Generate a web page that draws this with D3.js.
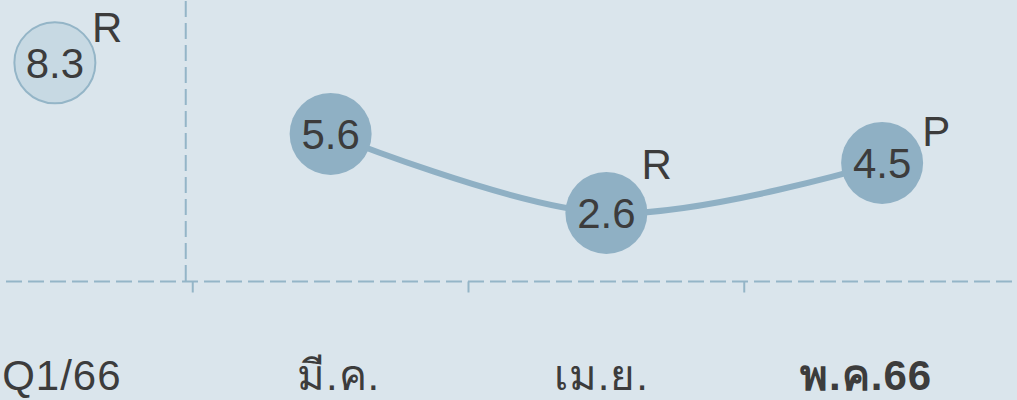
<!DOCTYPE html>
<html>
<head>
<meta charset="utf-8">
<script src="https://cdn.jsdelivr.net/npm/d3@7"></script>
<style>
  body { margin: 0; background: #dae5ec; }
  svg { display: block; font-family: "Liberation Sans", Arial, sans-serif; }
</style>
</head>
<body>
<div id="chart"></div>
<script>
// chart size
const WIDTH = 1017;
const HEIGHT = 400;

// data
const categories = ["Q1/66", "มี.ค.", "เม.ย.", "พ.ค.66"];
const values = [8.3, 5.6, 2.6, 4.5];
const flags = ["R", "", "R", "P"];
const periodType = ["quarter", "month", "month", "month"];

const BG = "#dae5ec";
const BLUE = "#8fb0c4";
const LIGHT = "#c7d9e3";
const GRID = "#94b5c7";
const TEXT = "#3c3c3c";

// where the little R / P sits relative to the circle centre
const FLAG_OFFSET = [[37, -21], [0, 0], [35, -34], [40, -17]];
// labels are not quite centred under the bubbles
const LABEL_SHIFT = [7, 8, -5, -16];

let svg = d3.select("#chart").append("svg")
  .attr("width", WIDTH)
  .attr("height", HEIGHT);

svg.append("rect").attr("width", WIDTH).attr("height", HEIGHT).attr("fill", BG);

let xScale = d3.scaleBand()
  .domain(categories)
  .range([-83, 1020])
  .padding(0);
let cx = (d) => xScale(d) + xScale.bandwidth() / 2;

let yScale = d3.scaleLinear()
  .domain([0, 10])
  .range([281.5, 18]);

let points = categories.map((c, i) => ({ cat: c, value: values[i], flag: flags[i], type: periodType[i], i: i }));

// zero line
svg.append("line")
  .attr("x1", 6).attr("x2", WIDTH)
  .attr("y1", yScale(0)).attr("y2", yScale(0))
  .attr("stroke", GRID).attr("stroke-width", 2)
  .attr("stroke-dasharray", "16,6");

// separator between quarter and months
let sepX = xScale(categories[1]) - 7;
svg.append("line")
  .attr("x1", sepX).attr("x2", sepX)
  .attr("y1", 1).attr("y2", yScale(0))
  .attr("stroke", GRID).attr("stroke-width", 2)
  .attr("stroke-dasharray", "16,6");

// ticks between categories
svg.append("g").selectAll("line")
  .data(categories.slice(1))
  .enter()
  .append("line")
  .attr("x1", (d) => xScale(d)).attr("x2", (d) => xScale(d))
  .attr("y1", yScale(0)).attr("y2", yScale(0) + 11)
  .attr("stroke", GRID).attr("stroke-width", 2);

// line through the monthly points
let monthly = points.filter((d) => d.type == "month");
let line = d3.line()
  .x((d) => cx(d.cat))
  .y((d) => yScale(d.value))
  .curve(d3.curveCardinal);
svg.append("path")
  .datum(monthly)
  .attr("d", line)
  .attr("fill", "none")
  .attr("stroke", BLUE)
  .attr("stroke-width", 6);

// bubbles
svg.append("g").selectAll("circle")
  .data(points)
  .enter()
  .append("circle")
  .attr("cx", (d) => cx(d.cat))
  .attr("cy", (d) => yScale(d.value))
  .attr("r", (d) => d.type == "quarter" ? 40.5 : 41)
  .attr("fill", (d) => d.type == "quarter" ? LIGHT : BLUE)
  .attr("stroke", (d) => d.type == "quarter" ? GRID : "none")
  .attr("stroke-width", 2);

// values inside bubbles
svg.append("g").selectAll("text")
  .data(points)
  .enter()
  .append("text")
  .attr("x", (d) => cx(d.cat))
  .attr("y", (d) => yScale(d.value))
  .attr("dy", "0.36em")
  .attr("text-anchor", "middle")
  .attr("font-size", 42)
  .attr("fill", TEXT)
  .text((d) => d.value.toFixed(1));

// R / P flags
svg.append("g").selectAll("text")
  .data(points.filter((d) => d.flag != ""))
  .enter()
  .append("text")
  .attr("x", (d) => cx(d.cat) + FLAG_OFFSET[d.i][0])
  .attr("y", (d) => yScale(d.value) + FLAG_OFFSET[d.i][1])
  .attr("font-size", 42)
  .attr("fill", TEXT)
  .text((d) => d.flag);

// category labels
svg.append("g").selectAll("text")
  .data(points)
  .enter()
  .append("text")
  .attr("x", (d) => cx(d.cat) + LABEL_SHIFT[d.i])
  .attr("y", 390)
  .attr("text-anchor", "middle")
  .attr("font-size", 42)
  .attr("letter-spacing", 1)
  .attr("font-weight", (d) => d.i == categories.length - 1 ? "bold" : "normal")
  .attr("fill", TEXT)
  .text((d) => d.cat);
</script>
</body>
</html>
